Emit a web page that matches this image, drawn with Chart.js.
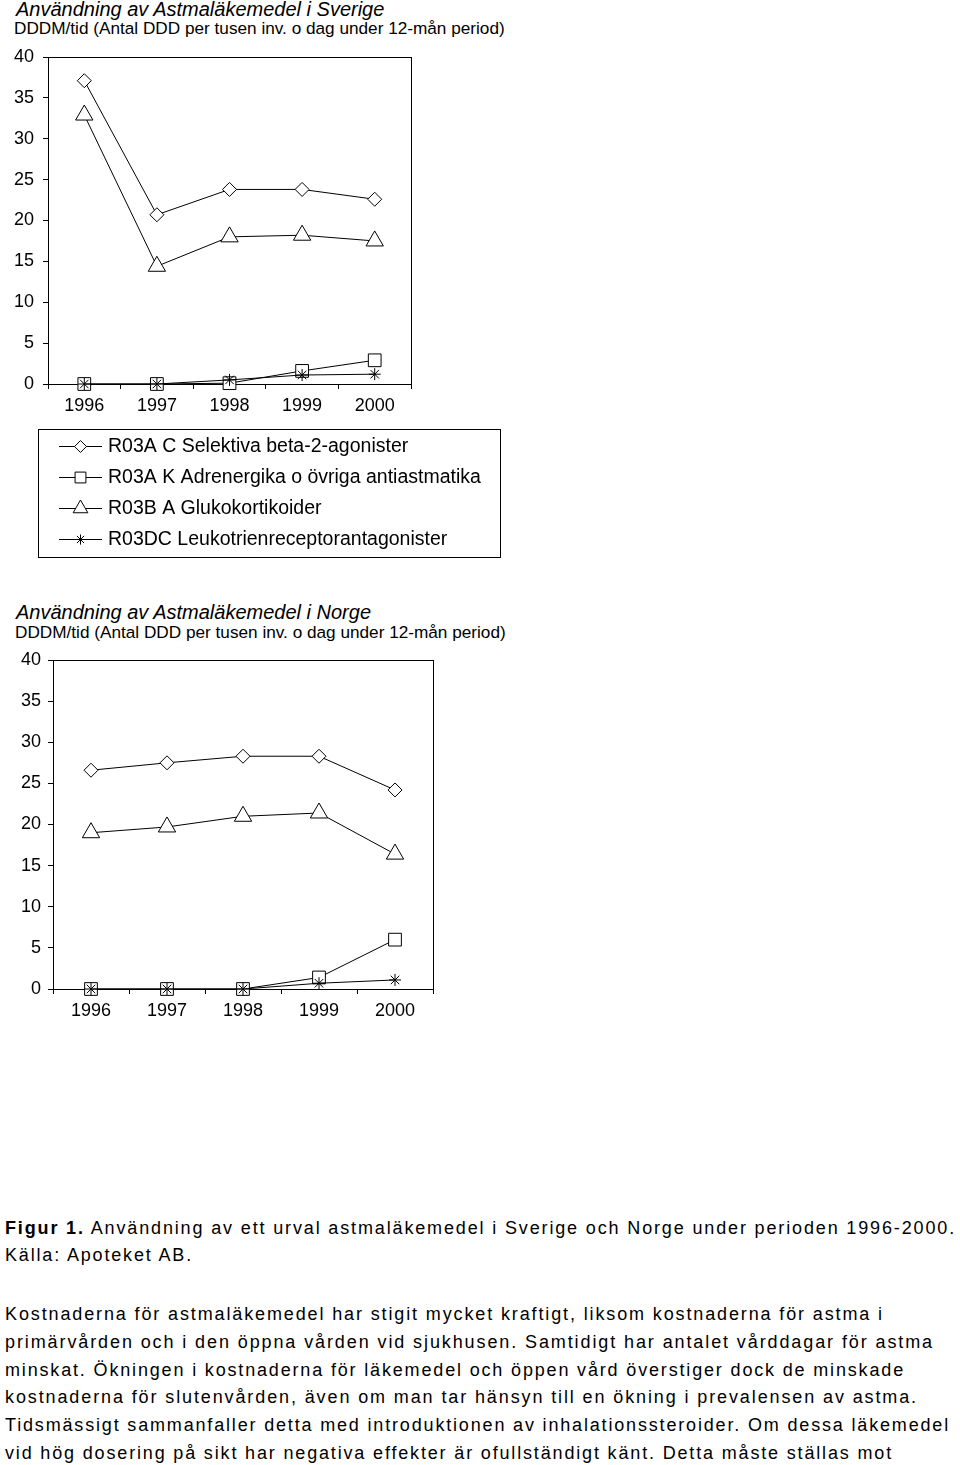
<!DOCTYPE html>
<html>
<head>
<meta charset="utf-8">
<script src="https://cdn.jsdelivr.net/npm/chart.js"></script>
<style>
  body { margin: 0; background: #fff; color: #000; font-family: "Liberation Sans", Arial, sans-serif; }
  #page { position: relative; width: 960px; height: 1465px; overflow: hidden; }
  .title { position: absolute; font-style: italic; font-size: 20px; line-height: 20px; white-space: nowrap; }
  .sub { position: absolute; font-size: 17.2px; line-height: 17px; white-space: nowrap; }
  .cap { position: absolute; left: 5px; font-size: 18px; line-height: 18px; white-space: nowrap; }
  canvas { position: absolute; left: 0; }
</style>
</head>
<body>
<div id="page">
  <div class="title" style="left:16px; top:-1px">Användning av Astmaläkemedel i Sverige</div>
  <div class="sub" style="left:14px; top:20px">DDDM/tid (Antal DDD per tusen inv. o dag under 12-mån period)</div>
  <canvas id="sverige-chart" width="520" height="530" style="top:37px"></canvas>

  <div class="title" style="left:16px; top:602px">Användning av Astmaläkemedel i Norge</div>
  <div class="sub" style="left:15px; top:624px">DDDM/tid (Antal DDD per tusen inv. o dag under 12-mån period)</div>
  <canvas id="norge-chart" width="450" height="390" style="top:640px"></canvas>

  <div class="cap" data-right="956" style="top:1219px"><b>Figur 1.</b> Användning av ett urval astmaläkemedel i Sverige och Norge under perioden 1996-2000.</div>
  <div class="cap" data-right="193" style="top:1246px">Källa: Apoteket AB.</div>
  <div class="cap" data-right="884" style="top:1305px">Kostnaderna för astmaläkemedel har stigit mycket kraftigt, liksom kostnaderna för astma i</div>
  <div class="cap" data-right="934" style="top:1333px">primärvården och i den öppna vården vid sjukhusen. Samtidigt har antalet vårddagar för astma</div>
  <div class="cap" data-right="905" style="top:1361px">minskat. Ökningen i kostnaderna för läkemedel och öppen vård överstiger dock de minskade</div>
  <div class="cap" data-right="918" style="top:1388px">kostnaderna för slutenvården, även om man tar hänsyn till en ökning i prevalensen av astma.</div>
  <div class="cap" data-right="950" style="top:1416px">Tidsmässigt sammanfaller detta med introduktionen av inhalationssteroider. Om dessa läkemedel</div>
  <div class="cap" data-right="893" style="top:1444px">vid hög dosering på sikt har negativa effekter är ofullständigt känt. Detta måste ställas mot</div>
</div>

<script>
var years = ['1996', '1997', '1998', '1999', '2000']
var seriesNames = [
  'R03A C Selektiva beta-2-agonister',
  'R03A K Adrenergika o övriga antiastmatika',
  'R03B A Glukokortikoider',
  'R03DC Leukotrienreceptorantagonister'
]
var yMin = 0, yMax = 40, yStep = 5

var sverigeSelektiva = [37.1, 20.7, 23.8, 23.8, 22.6]
var sverigeAdrenergika = [0, 0, 0.1, 1.6, 2.9]
var sverigeGlukokortikoider = [32.9, 14.4, 18.0, 18.2, 17.5]
var sverigeLeukotrien = [0, 0, 0.5, 1.1, 1.2]

var norgeSelektiva = [26.6, 27.5, 28.3, 28.3, 24.2]
var norgeAdrenergika = [0, 0, 0, 1.4, 6.0]
var norgeGlukokortikoider = [19.0, 19.7, 21.0, 21.4, 16.4]
var norgeLeukotrien = [0, 0, 0, 0.7, 1.1]

var fontFamily = '"Liberation Sans", Arial, sans-serif'

var makeDatasets = function(selektiva, adrenergika, gluko, leuko) {
  var sets = [
    { data: selektiva, pointStyle: 'rectRot', pointRadius: 7, order: 1 },
    { data: adrenergika, pointStyle: 'rect', pointRadius: 9, order: 2 },
    { data: gluko, pointStyle: 'triangle', pointRadius: 10, order: 3 },
    { data: leuko, pointStyle: 'star', pointRadius: 6, order: 0 }
  ]
  return sets.map(function(ds, i) {
    return Object.assign(ds, {
      label: seriesNames[i],
      borderColor: '#000',
      borderWidth: 1,
      backgroundColor: '#fff',
      pointBorderColor: '#000',
      pointBackgroundColor: '#fff',
      pointBorderWidth: 1,
      pointHoverRadius: ds.pointRadius,
      tension: 0,
      clip: false
    })
  })
}

// black box round the plot area
var framePlugin = {
  id: 'frame',
  beforeDatasetsDraw: function(chart) {
    var a = chart.chartArea, c = chart.ctx
    c.save()
    c.strokeStyle = '#000'
    c.lineWidth = 1
    c.strokeRect(Math.round(a.left) + 0.5, Math.round(a.top) + 0.5,
      Math.round(a.right - a.left), Math.round(a.bottom - a.top))
    c.restore()
  }
}

// legend in a box with line + marker samples
var boxLegendPlugin = {
  id: 'boxLegend',
  afterDraw: function(chart, args, opts) {
    if (!opts || !opts.display) return
    var c = chart.ctx
    c.save()
    c.strokeStyle = '#000'
    c.lineWidth = 1
    c.strokeRect(opts.left + 0.5, opts.top + 0.5, opts.width, opts.height)
    c.font = '19.5px ' + fontFamily
    c.textBaseline = 'middle'
    chart.data.datasets.forEach(function(ds, i) {
      var y = Math.round(opts.top + opts.firstRow + i * opts.rowStep) + 0.5
      c.beginPath()
      c.moveTo(opts.lineFrom, y)
      c.lineTo(opts.lineTo, y)
      c.stroke()
      c.fillStyle = '#fff'
      Chart.helpers.drawPoint(c, {
        pointStyle: ds.pointStyle,
        radius: ds.pointRadius * 0.85,
        borderWidth: 1
      }, (opts.lineFrom + opts.lineTo) / 2, y)
      c.fillStyle = '#000'
      c.fillText(ds.label, opts.textX, y)
    })
    c.restore()
  }
}

var drawChart = function(canvasId, datasets, geo, legendOpts) {
  var tickFont = { family: fontFamily, size: 18 }
  return new Chart(document.getElementById(canvasId), {
    type: 'line',
    data: { labels: years, datasets: datasets },
    plugins: [framePlugin, boxLegendPlugin],
    options: {
      responsive: false,
      animation: false,
      events: [],
      layout: { padding: geo.padding },
      plugins: {
        legend: { display: false },
        tooltip: { enabled: false },
        boxLegend: legendOpts
      },
      scales: {
        x: {
          offset: true,
          grid: { offset: true, drawOnChartArea: false, tickLength: 5, color: '#000' },
          border: { color: '#000' },
          ticks: { color: '#000', font: tickFont, padding: 6, maxRotation: 0, autoSkip: false },
          afterFit: function(s) { s.height = 40 }
        },
        y: {
          min: yMin,
          max: yMax,
          grid: { drawOnChartArea: false, tickLength: 5, color: '#000' },
          border: { color: '#000' },
          ticks: { stepSize: yStep, color: '#000', font: tickFont, padding: geo.yPad },
          afterFit: function(s) { s.width = geo.yWidth }
        }
      }
    }
  })
}

drawChart('sverige-chart',
  makeDatasets(sverigeSelektiva, sverigeAdrenergika, sverigeGlukokortikoider, sverigeLeukotrien),
  { padding: { top: 20, right: 109, bottom: 143, left: 0 }, yWidth: 48, yPad: 9 },
  { display: true, left: 38, top: 392, width: 462, height: 128, firstRow: 17, rowStep: 31,
    lineFrom: 59, lineTo: 102, textX: 108 })

drawChart('norge-chart',
  makeDatasets(norgeSelektiva, norgeAdrenergika, norgeGlukokortikoider, norgeLeukotrien),
  { padding: { top: 20, right: 17, bottom: 1, left: 0 }, yWidth: 53, yPad: 7 },
  { display: false })

// stretch caption lines to the widths they have in the scanned page
document.querySelectorAll('.cap').forEach(function(el) {
  var w = el.getBoundingClientRect().width
  var n = el.textContent.length
  var target = parseFloat(el.dataset.right) - 5
  el.style.letterSpacing = ((target - w) / n) + 'px'
})
</script>
</body>
</html>
